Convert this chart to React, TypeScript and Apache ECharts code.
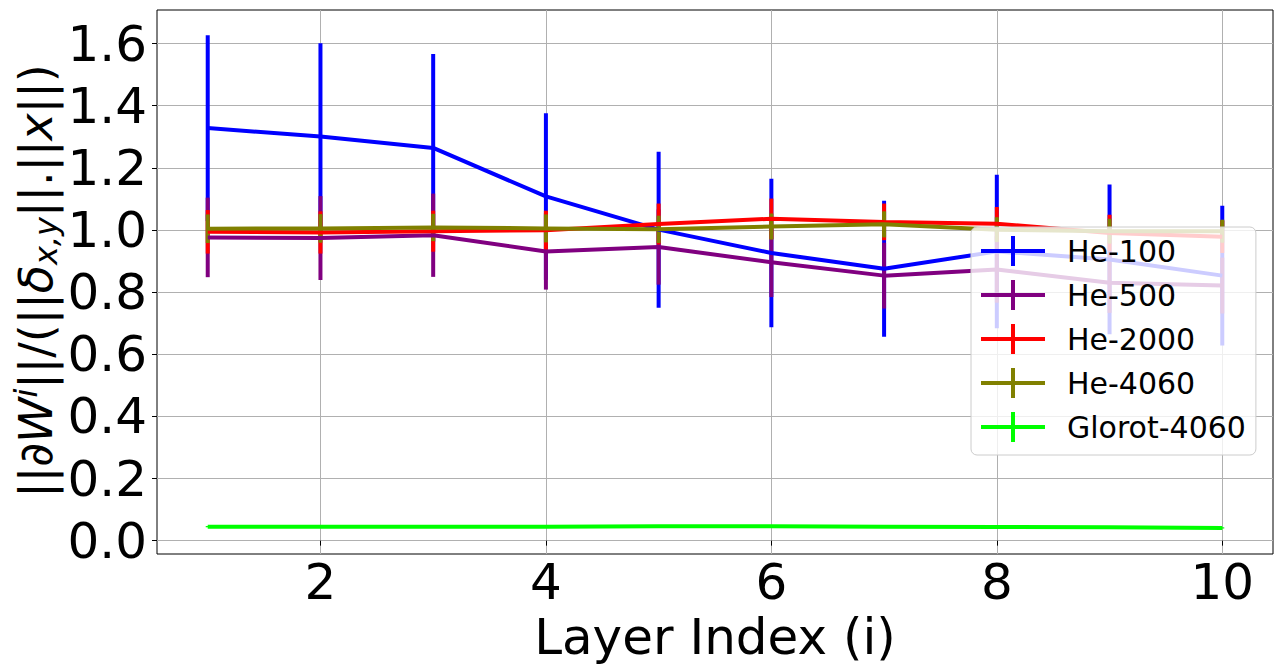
import React, { useEffect, useRef } from "react";
import * as echarts from "echarts";

const layers = [1, 2, 3, 4, 5, 6, 7, 8, 9, 10];
const xTicks = [2, 4, 6, 8, 10];
const yTicks = [0, 0.2, 0.4, 0.6, 0.8, 1.0, 1.2, 1.4, 1.6];

const he100 = [1.328, 1.301, 1.264, 1.108, 1.001, 0.926, 0.875, 0.931, 0.905, 0.853];
const he100Err = [0.299, 0.3, 0.302, 0.268, 0.251, 0.239, 0.219, 0.247, 0.241, 0.225];
const he500 = [0.976, 0.974, 0.983, 0.931, 0.945, 0.896, 0.853, 0.873, 0.83, 0.821];
const he500Err = [0.128, 0.135, 0.134, 0.123, 0.121, 0.112, 0.106, 0.107, 0.097, 0.09];
const he2000 = [0.994, 0.992, 0.996, 0.999, 1.019, 1.036, 1.026, 1.02, 0.99, 0.978];
const he2000Err = [0.07, 0.068, 0.066, 0.063, 0.066, 0.065, 0.059, 0.054, 0.059, 0.052];
const he4060 = [1.004, 1.005, 1.008, 1.005, 1.002, 1.011, 1.018, 1.001, 0.996, 0.996];
const he4060Err = [0.046, 0.046, 0.044, 0.045, 0.044, 0.042, 0.042, 0.04, 0.04, 0.037];
const glorot4060 = [0.045, 0.045, 0.045, 0.045, 0.046, 0.046, 0.045, 0.044, 0.043, 0.041];
const glorot4060Err = [0.002, 0.002, 0.002, 0.002, 0.002, 0.002, 0.002, 0.002, 0.002, 0.002];

const seriesDefs = [
  { name: "He-100", color: "#0000ff", values: he100, err: he100Err },
  { name: "He-500", color: "#800080", values: he500, err: he500Err },
  { name: "He-2000", color: "#ff0000", values: he2000, err: he2000Err },
  { name: "He-4060", color: "#808000", values: he4060, err: he4060Err },
  { name: "Glorot-4060", color: "#00ff00", values: glorot4060, err: glorot4060Err },
];

const FONT = "DejaVu Sans";

export default function App() {
  const ref = useRef<HTMLDivElement>(null);
  useEffect(() => {
    if (!ref.current) return;
    const chart = echarts.init(ref.current, null, { renderer: "svg" });
    const series: any[] = [];
    seriesDefs.forEach((s) => {
      series.push({
        type: "custom",
        name: s.name + " err",
        data: layers.map((x, i) => [x, s.values[i] - s.err[i], s.values[i] + s.err[i]]),
        encode: { x: 0, y: [1, 2] },
        renderItem: (params: any, api: any) => {
          const x = api.value(0);
          const p1 = api.coord([x, api.value(1)]);
          const p2 = api.coord([x, api.value(2)]);
          return {
            type: "line",
            shape: { x1: p1[0], y1: p1[1], x2: p2[0], y2: p2[1] },
            style: { stroke: s.color, lineWidth: 4 },
          };
        },
        itemStyle: { color: s.color },
        silent: true,
      });
      series.push({
        type: "line",
        name: s.name,
        data: layers.map((x, i) => [x, s.values[i]]),
        showSymbol: false,
        symbol: "none",
        lineStyle: { color: s.color, width: 4 },
        itemStyle: { color: s.color },
        silent: true,
      });
    });

    chart.setOption({
      animation: false,
      grid: {
        left: 157,
        top: 10,
        right: 11,
        bottom: 114,
        show: true,
        borderColor: "#000",
        borderWidth: 1,
        containLabel: false,
      },
      xAxis: {
        type: "value",
        min: 0.55,
        max: 10.45,
        name: "Layer Index (i)",
        nameLocation: "middle",
        nameGap: 53,
        nameTextStyle: { fontFamily: FONT, fontSize: 50, color: "#000" },
        axisLine: { show: false },
        axisTick: { show: true, inside: false, length: 5, lineStyle: { color: "#000", width: 1 }, customValues: xTicks },
        axisLabel: {
          customValues: xTicks,
          fontFamily: FONT,
          fontSize: 50,
          color: "#000",
          margin: 3,
        },
        splitLine: { show: true, lineStyle: { color: "#b0b0b0", width: 1 } },
      },
      yAxis: {
        type: "value",
        min: -0.043,
        max: 1.708,
        axisLine: { show: false },
        axisTick: { show: true, inside: false, length: 5, lineStyle: { color: "#000", width: 1 }, customValues: yTicks },
        axisLabel: {
          customValues: yTicks,
          fontFamily: FONT,
          fontSize: 50,
          color: "#000",
          margin: 10,
          formatter: (v: number) => v.toFixed(1),
        },
        splitLine: { show: true, lineStyle: { color: "#b0b0b0", width: 1 } },
      },
      legend: {
        orient: "vertical",
        left: 971,
        top: 227,
        data: seriesDefs.map((s) => s.name),
        icon: "path://M0,13L64,13L64,17L0,17Z M30,0L34,0L34,30L30,30Z",
        itemWidth: 64,
        itemHeight: 30,
        itemGap: 14,
        padding: [9, 10, 13, 10],
        backgroundColor: "rgba(255,255,255,0.8)",
        borderColor: "#cccccc",
        borderWidth: 1,
        borderRadius: 6,
        itemStyle: { borderWidth: 0 },
        textStyle: { fontFamily: FONT, fontSize: 30, color: "#000", padding: [0, 0, 0, 17] },
        selectedMode: false,
      },
      graphic: [
        {
          type: "text",
          x: 36,
          y: 281,
          rotation: Math.PI / 2,
          style: {
            text: "{n|||∂}{it|W}{sup|i}{n|||/(||}{it|δ}{sub|x,y}{n|||.||}{it|x}{n|||)}",
            align: "center",
            verticalAlign: "middle",
            fill: "#000",
            fontFamily: FONT,
            fontSize: 46,
            rich: {
              n: { fontFamily: FONT, fontSize: 46, lineHeight: 52, fill: "#000" },
              it: { fontFamily: FONT, fontSize: 46, fontStyle: "italic", lineHeight: 52, fill: "#000" },
              sup: { fontFamily: FONT, fontSize: 32, fontStyle: "italic", verticalAlign: "top", lineHeight: 36, fill: "#000" },
              sub: { fontFamily: FONT, fontSize: 32, fontStyle: "italic", verticalAlign: "bottom", lineHeight: 36, fill: "#000" },
            },
          },
        },
      ],
      series,
    });
    return () => chart.dispose();
  }, []);
  return (
    <div
      ref={ref}
      style={{ position: "fixed", left: 0, top: 0, width: 1284, height: 668, background: "#fff" }}
    />
  );
}
